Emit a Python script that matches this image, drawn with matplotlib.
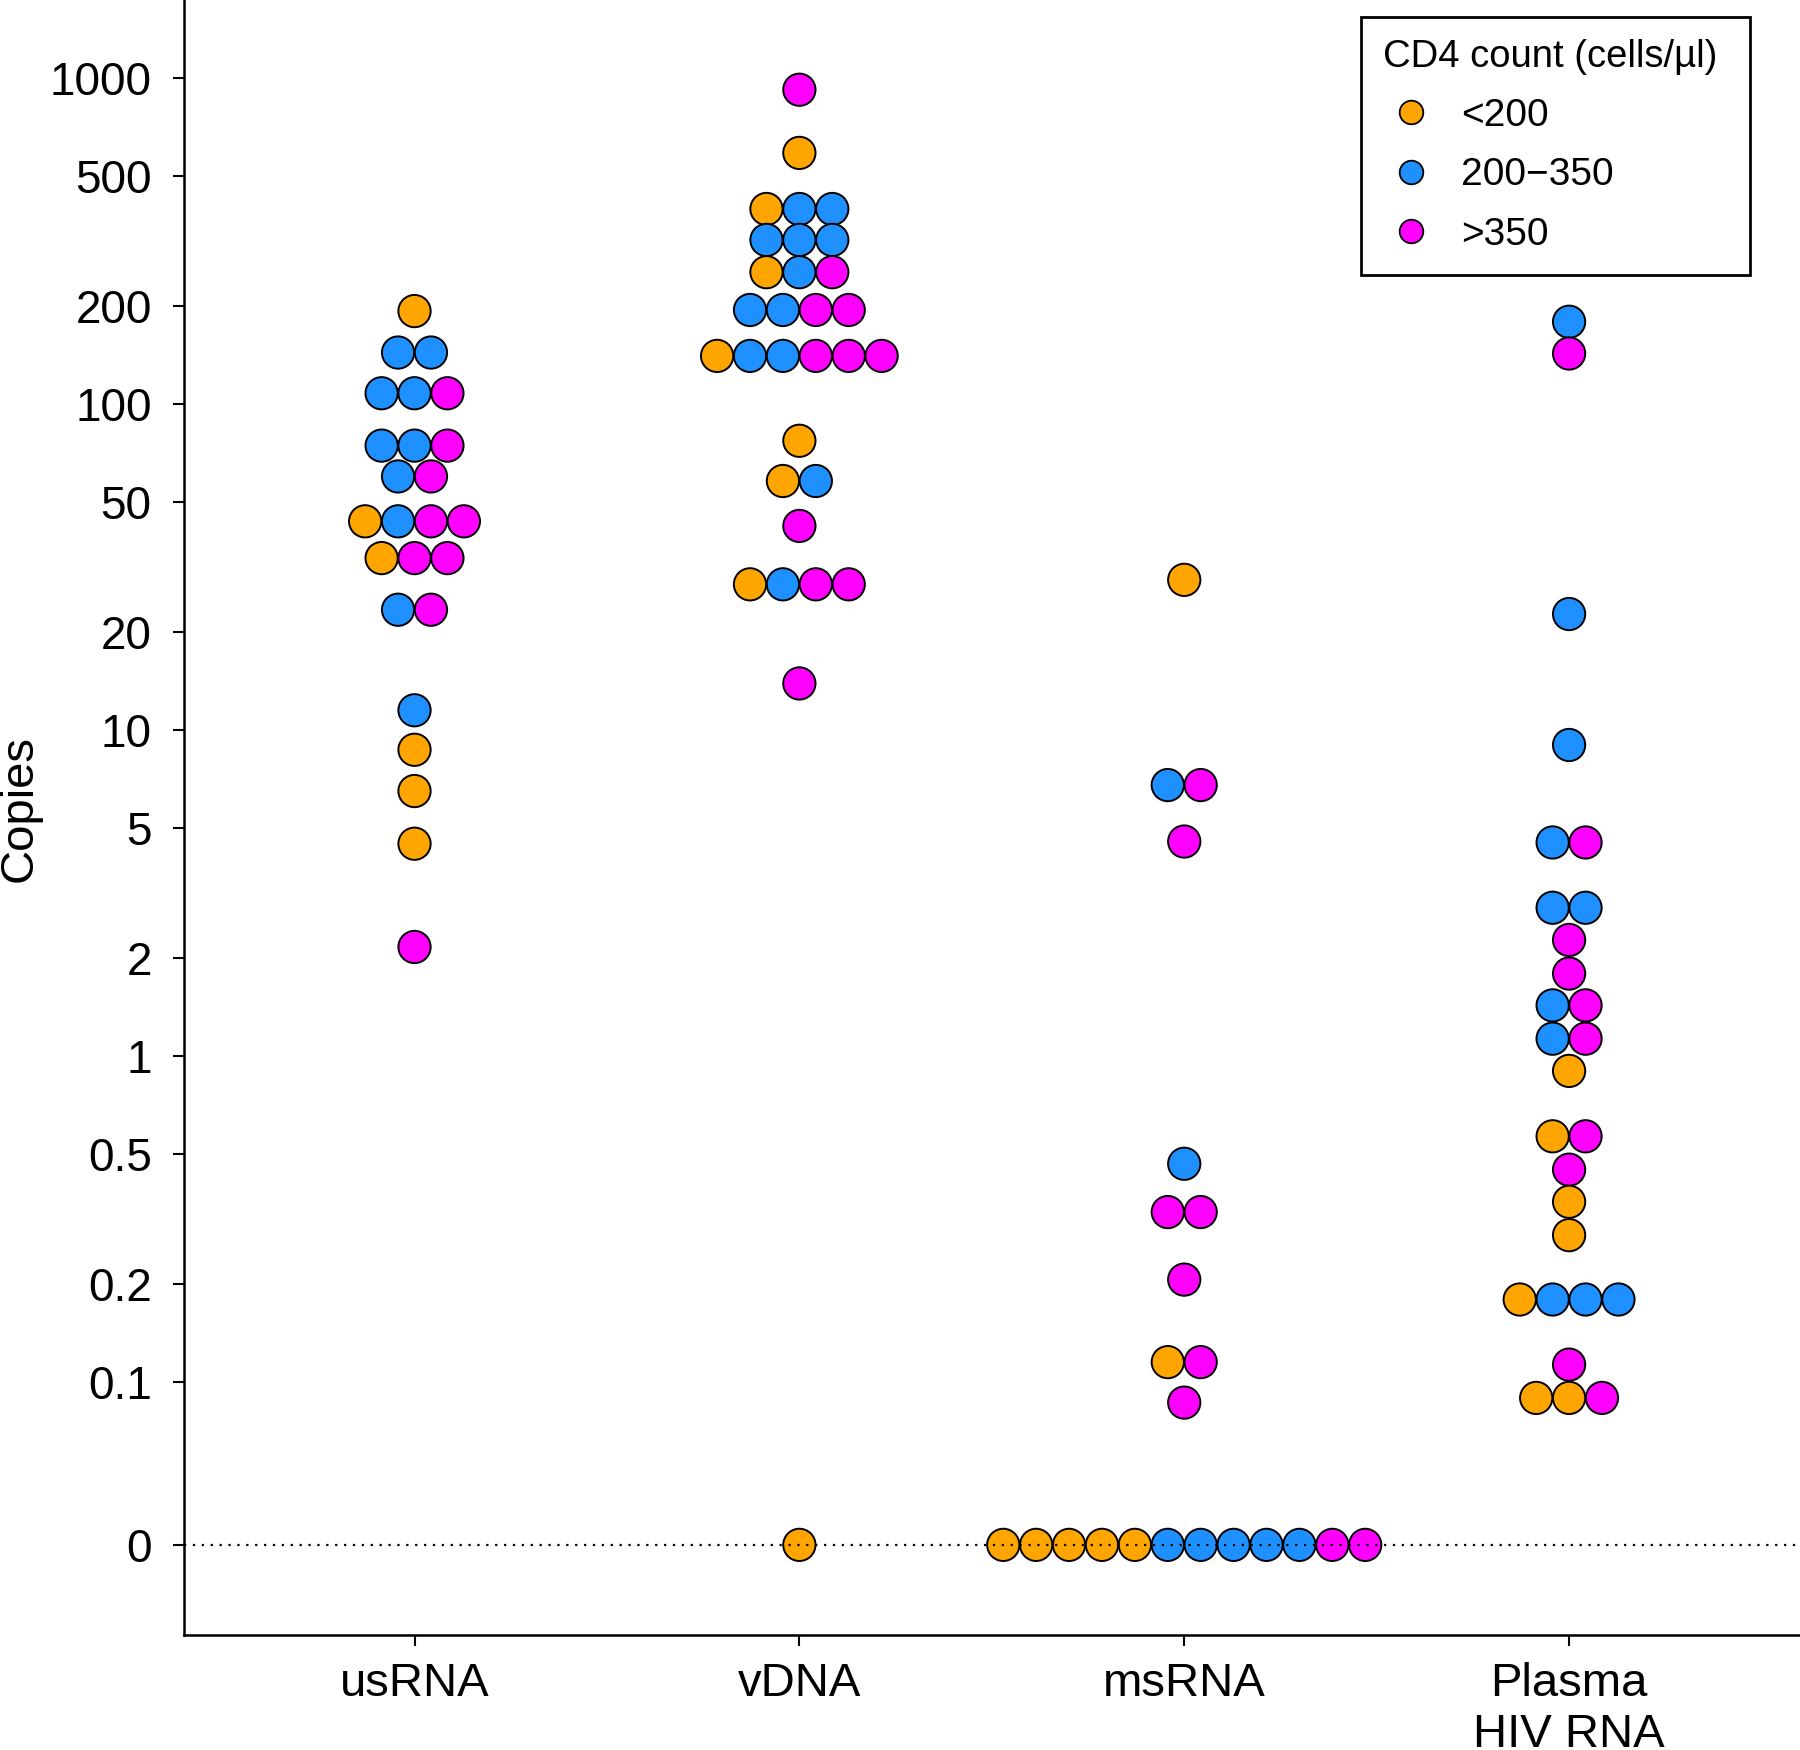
import numpy as np
import matplotlib.pyplot as plt
from matplotlib.lines import Line2D

plt.rcParams['font.family'] = ['Liberation Sans', 'DejaVu Sans']

categories = ['usRNA', 'vDNA', 'msRNA', 'Plasma\nHIV RNA']
cd4_labels = ['<200', '200\u2212350', '>350']
cd4_colors = ['#FFA500', '#1E90FF', '#FF00FF']

# cd4 codes: 0 = <200, 1 = 200-350, 2 = >350
usrna_values = [193, 144, 144, 108, 108, 108, 74.6, 74.6, 74.6, 60, 60,
                43.7, 43.7, 43.7, 43.7, 33.7, 33.7, 33.7, 23.4, 23.4,
                11.5, 8.7, 6.5, 4.48, 2.16]
usrna_cd4 = [0, 1, 1, 1, 1, 2, 1, 1, 2, 1, 2,
             0, 1, 2, 2, 0, 2, 2, 1, 2,
             1, 0, 0, 0, 2]

vdna_values = [922, 590, 397, 397, 397, 319, 319, 319, 254, 254, 254,
               194.5, 194.5, 194.5, 194.5, 140.6, 140.6, 140.6, 140.6, 140.6, 140.6,
               77.2, 58.1, 58.1, 42.3, 28, 28, 28, 28, 13.9, 0]
vdna_cd4 = [2, 0, 0, 1, 1, 1, 1, 1, 0, 1, 2,
            1, 1, 2, 2, 0, 1, 1, 2, 2, 2,
            0, 0, 1, 2, 0, 1, 2, 2, 2, 0]

msrna_values = [28.9, 6.78, 6.78, 4.55, 0.467, 0.332, 0.332, 0.206, 0.115, 0.115, 0.0864,
                0, 0, 0, 0, 0, 0, 0, 0, 0, 0, 0, 0]
msrna_cd4 = [0, 1, 2, 2, 1, 2, 2, 2, 0, 2, 2,
             0, 0, 0, 0, 0, 1, 1, 1, 1, 1, 2, 2]

plasma_values = [179, 143, 22.7, 9.0, 4.52, 4.52, 2.85, 2.85, 2.27, 1.79, 1.43, 1.43,
                 1.13, 1.13, 0.90, 0.567, 0.567, 0.448, 0.357, 0.282,
                 0.179, 0.179, 0.179, 0.179, 0.113, 0.0893, 0.0893, 0.0893]
plasma_cd4 = [1, 2, 1, 1, 1, 2, 1, 1, 2, 2, 1, 2,
              1, 2, 0, 0, 2, 2, 0, 0,
              0, 1, 1, 1, 2, 0, 0, 2]

all_values = [usrna_values, vdna_values, msrna_values, plasma_values]
all_cd4 = [usrna_cd4, vdna_cd4, msrna_cd4, plasma_cd4]

yticks = [1000, 500, 200, 100, 50, 20, 10, 5, 2, 1, 0.5, 0.2, 0.1, 0]
ytick_labels = ['1000', '500', '200', '100', '50', '20', '10', '5', '2', '1',
                '0.5', '0.2', '0.1', '0']

ZERO_POS = -1.5   # zero sits half a decade below 0.1


def fwd(v):
    v = np.asarray(v, dtype=float)
    out = ZERO_POS + v          # linear for v <= 0
    pos = v > 0
    out[pos] = np.log10(v[pos])
    return out


def inv(y):
    y = np.asarray(y, dtype=float)
    return np.where(y > ZERO_POS, 10.0 ** y, y - ZERO_POS)


fig = plt.figure(figsize=(18, 17.5), dpi=100)
ax = fig.add_axes([0.102, 0.066, 0.898, 0.934])
ax.set_yscale('function', functions=(fwd, inv))

step = 0.0855
for i, (vals, cd4) in enumerate(zip(all_values, all_cd4)):
    vals = np.array(vals, dtype=float)
    cd4 = np.array(cd4)
    xs = np.zeros(len(vals))
    for v in np.unique(vals):
        idx = np.where(vals == v)[0]
        idx = idx[np.argsort(cd4[idx], kind='stable')]
        n = len(idx)
        xs[idx] = i + (np.arange(n) - (n - 1) / 2) * step
    ax.scatter(xs, vals, s=540, c=[cd4_colors[g] for g in cd4],
               edgecolors='black', linewidths=1.4, zorder=3)

ax.axhline(0, color='black', linestyle=(0, (1, 3)), linewidth=1.6, zorder=4)

ax.set_xlim(-0.6, 3.6)
ax.set_ylim(-0.275, 10 ** 3.24)
ax.set_xticks(range(len(categories)))
ax.set_xticklabels(categories, fontsize=34)
ax.set_yticks(yticks)
ax.set_yticklabels(ytick_labels, fontsize=33)
ax.minorticks_off()
ax.tick_params(axis='both', length=8, width=1.5)
ax.tick_params(axis='y', pad=15)
ax.tick_params(axis='x', pad=12)

ax.spines['top'].set_visible(False)
ax.spines['right'].set_visible(False)
ax.spines['left'].set_linewidth(1.8)
ax.spines['bottom'].set_linewidth(1.8)

fig.text(0.011, 0.538, 'Copies', rotation=90, ha='center', va='center', fontsize=34)

handles = [Line2D([], [], marker='o', linestyle='', markersize=17,
                  markerfacecolor=c, markeredgecolor='black', markeredgewidth=1.3)
           for c in cd4_colors]
leg = ax.legend(handles, cd4_labels, title='CD4 count (cells/\u00b5l) ',
                loc='upper right', bbox_to_anchor=(0.969, 0.9896), borderaxespad=0,
                fontsize=28, title_fontsize=27.5, frameon=True, fancybox=False,
                framealpha=1, edgecolor='black', alignment='left',
                handlelength=1.45, handletextpad=0.55, labelspacing=0.6,
                borderpad=0.56)
leg.get_frame().set_linewidth(2)

fig.savefig('out.png', dpi=100)
